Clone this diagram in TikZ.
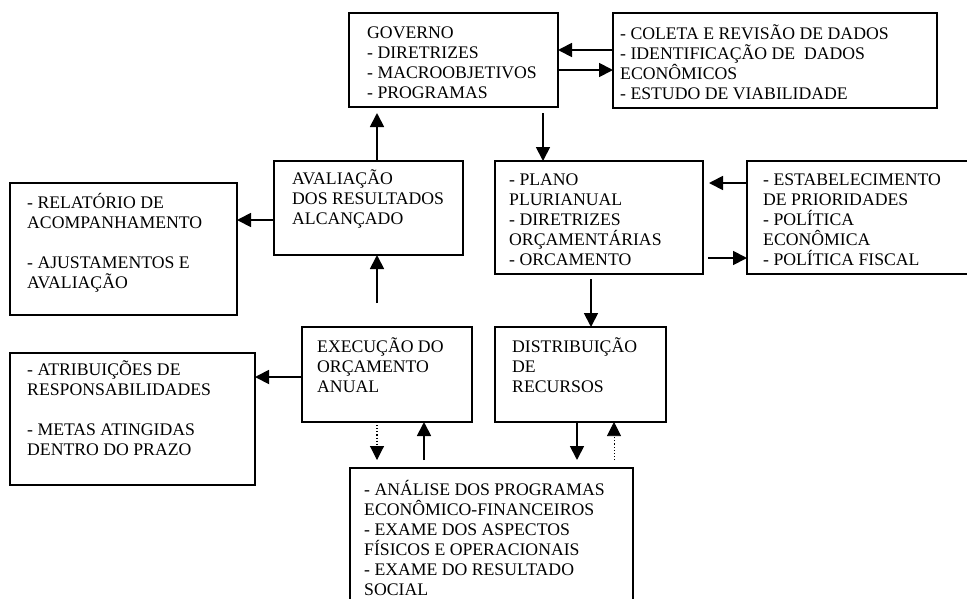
\documentclass[tikz,border=0pt]{standalone}
\usepackage{fontspec}
\setmainfont{Liberation Serif}
\usetikzlibrary{arrows.meta}
\newcommand\firststrut{\rule{0pt}{16pt}}
\begin{document}
\begin{tikzpicture}[x=1pt,y=-1pt,
  box/.style={draw, line width=1.8pt, inner sep=0pt, outer sep=0pt, anchor=north west},
  txt/.style={align=left, inner sep=0pt, anchor=north west, font=\fontsize{17.7}{20}\selectfont},
  arr/.style={line width=1.8pt, -{Triangle[length=14pt,width=14pt]}},
  dotarr/.style={line width=1.1pt, dotted, -{Triangle[length=14pt,width=14pt]}}]
\useasboundingbox (0,0) rectangle (967,598);
\clip (0,0) rectangle (967,598);
% boxes: top-left corner, size
\node[box, minimum width=209pt, minimum height=94pt]  (gov)     at (349,13)  {};
\node[box, minimum width=324pt, minimum height=95pt]  (coleta)  at (613,13)  {};
\node[box, minimum width=189pt, minimum height=94pt]  (aval)    at (274,161) {};
\node[box, minimum width=227pt, minimum height=132pt] (relat)   at (10,183)  {};
\node[box, minimum width=208pt, minimum height=113pt] (plano)   at (495,161) {};
\node[box, minimum width=243pt, minimum height=113pt] (estab)   at (747,161) {};
\node[box, minimum width=170pt, minimum height=95pt]  (exec)    at (302,327) {};
\node[box, minimum width=245pt, minimum height=132pt] (atrib)   at (10,353)  {};
\node[box, minimum width=171pt, minimum height=95pt]  (distrib) at (495,327) {};
\node[box, minimum width=283pt, minimum height=151pt] (analise) at (350,468) {};
% texts
\node[txt] (govT) at (367,22) {\firststrut GOVERNO\\- DIRETRIZES\\- MACROOBJETIVOS\\- PROGRAMAS};
\node[txt] (coletaT) at (620,23) {\firststrut - COLETA E REVISÃO DE DADOS\\- IDENTIFICAÇÃO DE~ DADOS\\ECONÔMICOS\\- ESTUDO DE VIABILIDADE};
\node[txt] (avalT) at (292,168) {\firststrut AVALIAÇÃO\\DOS RESULTADOS\\ALCANÇADO};
\node[txt] (relatT) at (27,192) {\firststrut - RELATÓRIO DE\\ACOMPANHAMENTO\\[20pt]- AJUSTAMENTOS E\\AVALIAÇÃO};
\node[txt] (planoT) at (509,169) {\firststrut - PLANO\\PLURIANUAL\\- DIRETRIZES\\ORÇAMENTÁRIAS\\- ORCAMENTO};
\node[txt] (estabT) at (763,169) {\firststrut - ESTABELECIMENTO\\DE PRIORIDADES\\- POLÍTICA\\ECONÔMICA\\- POLÍTICA FISCAL};
\node[txt] (execT) at (317,336) {\firststrut EXECUÇÃO DO\\ORÇAMENTO\\ANUAL};
\node[txt] (atribT) at (27,359) {\firststrut - ATRIBUIÇÕES DE\\RESPONSABILIDADES\\[20pt]- METAS ATINGIDAS\\DENTRO DO PRAZO};
\node[txt] (distribT) at (512,336) {\firststrut DISTRIBUIÇÃO\\DE\\RECURSOS};
\node[txt] (analiseT) at (364,479) {\firststrut - ANÁLISE DOS PROGRAMAS\\ECONÔMICO-FINANCEIROS\\- EXAME DOS ASPECTOS\\FÍSICOS E OPERACIONAIS\\- EXAME DO RESULTADO\\SOCIAL};
% connectors
\draw[arr] (coleta.west |- 0,50) -- (gov.east |- 0,50);
\draw[arr] (gov.east |- 0,70) -- (coleta.west |- 0,70);
\draw[arr, shorten <=6pt] (gov.south -| 543,0) -- (plano.north -| 543,0);
\draw[arr, shorten >=6pt] (aval.north -| 377,0) -- (gov.south -| 377,0);
\draw[arr] (aval.west |- 0,220) -- (relat.east |- 0,220);
\draw[arr, shorten >=6pt] (estab.west |- 0,183) -- (plano.east |- 0,183);
\draw[arr, shorten <=5pt] (plano.east |- 0,258) -- (estab.west |- 0,258);
\draw[arr, shorten <=5pt] (plano.south -| 591,0) -- (distrib.north -| 591,0);
\draw[arr, shorten <=24pt] (exec.north -| 377,0) -- (aval.south -| 377,0);
\draw[arr] (exec.west |- 0,377) -- (atrib.east |- 0,377);
\draw[dotarr, shorten >=8pt] (exec.south -| 377,0) -- (analise.north -| 377,0);
\draw[arr, shorten <=8pt] (analise.north -| 424,0) -- (exec.south -| 424,0);
\draw[arr, shorten >=8pt] (distrib.south -| 577,0) -- (analise.north -| 577,0);
\draw[dotarr, line width=0.7pt, shorten <=8pt] (analise.north -| 614,0) -- (distrib.south -| 614,0);
\end{tikzpicture}
\end{document}
